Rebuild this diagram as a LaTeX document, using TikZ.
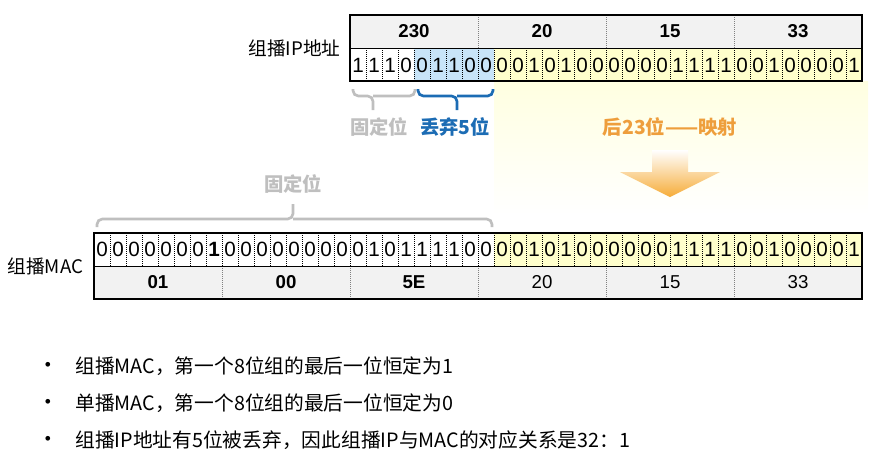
\documentclass[tikz,border=0pt]{standalone}
\usepackage{fontspec}
\setmainfont{Liberation Sans}
\newfontfamily\cjk{Noto Sans CJK SC}
\usetikzlibrary{arrows,positioning}

\begin{document}
\begin{tikzpicture}[x=0.75pt,y=-0.75pt,>=latex]

\definecolor{hdrgray}{RGB}{242,242,242}
\definecolor{bitblue}{RGB}{200,228,248}
\definecolor{bityellow}{RGB}{255,255,204}
\definecolor{fixgray}{RGB}{191,191,191}
\definecolor{dropblue}{RGB}{28,108,180}
\definecolor{maporange}{RGB}{238,158,60}
\definecolor{arrorange}{RGB}{246,172,56}

\tikzset{
	bit/.style={inner sep=0pt,font=\fontsize{15.5}{16}\selectfont},
	octet/.style={inner sep=0pt,font=\fontsize{14}{16}\selectfont},
	sep/.style={densely dotted,line width=0.5pt},
	brace/.style={line width=2pt,rounded corners=4pt},
	tag/.style={inner sep=0pt,font=\cjk\bfseries\fontsize{14.5}{16}\selectfont},
	rowname/.style={inner sep=0pt,font=\cjk\fontsize{14}{16}\selectfont},
	note/.style={inner sep=0pt,anchor=west,font=\cjk\fontsize{14.8}{16}\selectfont}
}

\useasboundingbox (0,0) rectangle (871,454);

% glow under the mapped bits
\shade[top color=bityellow!60,bottom color=white] (494,81) rectangle (868,215);

% IP address 230.20.15.33
\fill[hdrgray] (350,15) rectangle (862,48);
\fill[bitblue] (414,48) rectangle (494,81);
\fill[bityellow] (494,48) rectangle (862,81);

\foreach \b [count=\i from 0] in {1,1,1,0,0,1,1,0,0,0,0,1,0,1,0,0,
	0,0,0,0,1,1,1,1,0,0,1,0,0,0,0,1}{
	\node[bit] (ip\i) at ({358+16*\i},65) {\b};
}
\foreach \i in {1,...,31}{
	\draw[sep] ({350+16*\i},48)--({350+16*\i},81);
}
\foreach \i in {1,2,3}{
	\draw[sep,gray] ({350+128*\i},15)--({350+128*\i},48);
}
\foreach \v [count=\i from 0] in {230,20,15,33}{
	\node[octet,font=\bfseries\fontsize{14}{16}\selectfont] (ipo\i) at ({414+128*\i},31.5) {\v};
}
\draw (350,48)--(862,48);
\draw[line width=2.2pt] (350,15) rectangle (862,81);

\coordinate (ipwest) at (350,48);
\node[rowname,left=7pt of ipwest] (iplabel) {组播IP地址};

% braces under the IP address
\draw[brace,fixgray] (353,89) |- (373,96) -- (373,110);
\draw[brace,fixgray] (415,89) |- (373,96);
\draw[brace,dropblue] (418,89) |- (457,96) -- (457,110);
\draw[brace,dropblue] (493,89) |- (457,96);

\node[tag,color=fixgray] (ipfixed) at (379,127) {固定位};
\node[tag,color=dropblue] (dropped) at (455,127) {丢弃5位};
\node[tag,color=maporange] (mapping) at (670,127) {后23位——映射};

% arrow
\shade[top color=white,bottom color=arrorange]
	(652,150)--(688,150)--(688,172)--(720,172)--(670,197)--(620,172)--(652,172)--cycle;

% brace over the MAC address
\draw[brace,fixgray] (97,227) |- (293,219) -- (293,204);
\draw[brace,fixgray] (492,227) |- (293,219);
\node[tag,color=fixgray] (macfixed) at (293,184) {固定位};

% MAC address 01-00-5E-14-0F-21
\fill[hdrgray] (94,266) rectangle (862,299);
\fill[bityellow] (494,233) rectangle (862,266);

\foreach \b [count=\i from 0] in {0,0,0,0,0,0,0,1,0,0,0,0,0,0,0,0,
	0,1,0,1,1,1,1,0,0,0,0,1,0,1,0,0,0,0,0,0,1,1,1,1,0,0,1,0,0,0,0,1}{
	\node[bit] (mac\i) at ({102+16*\i},249.5) {\ifnum\i=7 \bfseries\fi\b};
}
\foreach \i in {1,...,47}{
	\draw[sep] ({94+16*\i},233)--({94+16*\i},266);
}
\foreach \i in {1,...,5}{
	\draw[sep,gray] ({94+128*\i},266)--({94+128*\i},299);
}
\foreach \v [count=\i from 0] in {\textbf{01},\textbf{00},\textbf{5E},20,15,33}{
	\node[octet] (maco\i) at ({158+128*\i},282.5) {\v};
}
\draw (94,266)--(862,266);
\draw[line width=2.2pt] (94,233) rectangle (862,299);

\coordinate (macwest) at (94,266);
\node[rowname,left=8pt of macwest] (maclabel) {组播MAC};

% notes
\foreach \txt [count=\i from 0] in {组播MAC，第一个8位组的最后一位恒定为1,
	单播MAC，第一个8位组的最后一位恒定为0,
	组播IP地址有5位被丢弃，因此组播IP与MAC的对应关系是32：1}{
	\node[inner sep=0pt,font=\fontsize{13}{14}\selectfont] (dot\i) at (48,{366+37*\i}) {•};
	\node[note] (note\i) at (75,{366+37*\i}) {\txt};
}

\end{tikzpicture}
\end{document}
